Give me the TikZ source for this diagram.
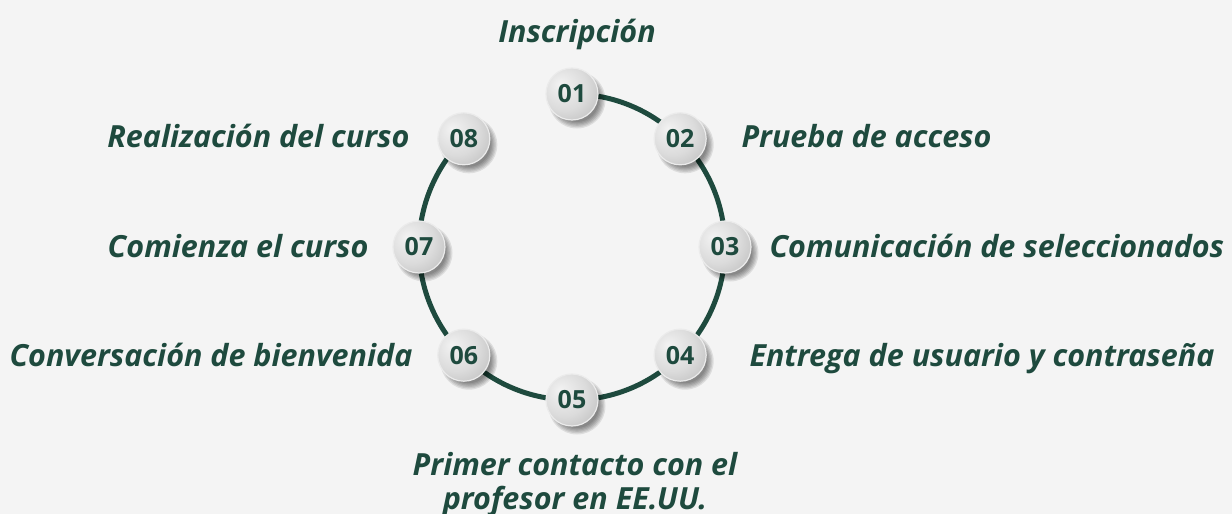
\documentclass[tikz,border=0pt]{standalone}
\usepackage{fontspec}
\setmainfont{Open Sans}
\newfontfamily\numfont{Open Sans}
\usetikzlibrary{calc}
\definecolor{dkgreen}{HTML}{1E4A3E}
\definecolor{bgcol}{HTML}{F4F4F4}
\pgfdeclareradialshading{ballshade}{\pgfpoint{-12bp}{10bp}}{color(0bp)=(black!5); color(22bp)=(black!14); color(45bp)=(black!30); color(62bp)=(black!44)}
\begin{document}
\begin{tikzpicture}[x=1pt,y=-1pt,
  ball/.style={circle, minimum size=52pt, inner sep=0pt, shading=ballshade, draw=black!8, line width=1.2pt,
    font=\numfont\bfseries\fontsize{25}{25}\selectfont, text=dkgreen},
  lbl/.style={font=\bfseries\itshape\fontsize{30.5}{34}\selectfont, text=dkgreen},
  ring/.style={draw=dkgreen, line width=5pt}]
\fill[bgcol] (0,0) rectangle (1232,514);
\useasboundingbox (0,0) rectangle (1232,514);
\coordinate (c) at (572,247);
\foreach \i in {1,...,8} \coordinate (p\i) at ($(c)+({-90+45*(\i-1)}:153)$);
% ring
\draw[ring] (p1) arc[start angle=-90, end angle=225, radius=153];
% shadows
\foreach \i in {1,...,8}{
  \foreach \k in {0,...,5}
    \fill[black, opacity=0.09] ($(p\i)+(5,6)$) circle ({28.5-\k*1.3});
}
% balls
\node[ball] (b1) at (p1) {01};
\node[ball] (b2) at (p2) {02};
\node[ball] (b3) at (p3) {03};
\node[ball] (b4) at (p4) {04};
\node[ball] (b5) at (p5) {05};
\node[ball] (b6) at (p6) {06};
\node[ball] (b7) at (p7) {07};
\node[ball] (b8) at (p8) {08};
% labels
\node[lbl, anchor=base] (t1) at (577,42) {Inscripción};
\node[lbl, anchor=base west] (t2) at (738,147) {Prueba de acceso};
\node[lbl, anchor=base west] (t3) at (766,257) {Comunicación de seleccionados};
\node[lbl, anchor=base west] (t4) at (746,366) {Entrega de usuario y contraseña};
\node[lbl, anchor=base, align=center] (t5a) at (575,475) {Primer contacto con el};
\node[lbl, anchor=base, align=center] (t5b) at (575,509) {profesor en EE.UU.};
\node[lbl, anchor=base east] (t6) at (416,366) {Conversación de bienvenida};
\node[lbl, anchor=base east] (t7) at (372,257) {Comienza el curso};
\node[lbl, anchor=base east] (t8) at (413,147) {Realización del curso};
\end{tikzpicture}
\end{document}
